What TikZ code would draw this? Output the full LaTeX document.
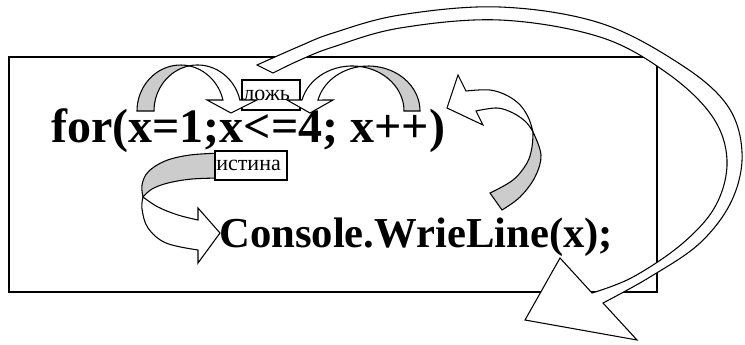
\documentclass[tikz,border=0pt]{standalone}
\usepackage{fontspec}
\setmainfont{Liberation Serif}

\begin{document}
\begin{tikzpicture}[x=0.75pt,y=-0.75pt,
  back/.style={draw,line width=0.8pt,fill=gray!40},
  front/.style={draw,line width=0.8pt,fill=white},
  lbl/.style={draw,line width=0.9pt,fill=white,font=\fontsize{16.5}{18}\selectfont,
    align=left,inner xsep=1pt,inner ysep=0pt}]
\useasboundingbox (0,0) rectangle (745,344);

\draw[line width=1.2pt] (9,57) rectangle (657,292);

\node[anchor=base west,inner sep=0pt,font=\fontsize{36}{42}\selectfont\bfseries] (fortext) at (51,142) {for(x=1;x<=4; x++)};
\node[anchor=base west,inner sep=0pt,font=\fontsize{32}{38}\selectfont\bfseries] (cons) at (219,247) {Console.WrieLine(x);};

\draw[back] plot[smooth,tension=0.6] coordinates {(222,153) (190,155) (165,161) (148,172) (142,185) (143,197)}
  -- plot[smooth,tension=0.6] coordinates {(143,197) (152,189) (168,183) (192,179) (222,178)} -- cycle;
\draw[front] plot[smooth,tension=0.6] coordinates {(143,197) (142,209) (148,228) (166,243) (198,250)}
  -- (198,263) -- (220,233) -- (198,208) -- (198,220)
  -- plot[smooth,tension=0.6] coordinates {(198,220) (178,215) (158,207) (143,197)} -- cycle;

\node[lbl,text width=41.5pt,minimum height=22.5pt] (lozh) at (271,95) {ложь};
\node[lbl,text width=52pt,minimum height=21.75pt] (ist) at (251,165.5) {истина};

\draw[back] (137,111) arc[start angle=180,end angle=281.24,x radius=43.6,y radius=46]
  arc[start angle=258.76,end angle=180,x radius=43.6,y radius=46] -- cycle;
\draw[front] (189.1,65.88) arc[start angle=281.24,end angle=346.2,x radius=43.6,y radius=46]
  -- (207,100) -- (231,113) -- (257,100) -- (239.9,100)
  arc[start angle=346.2,end angle=258.76,x radius=43.6,y radius=46] -- cycle;

\draw[back] (420,111) arc[start angle=360,end angle=261.12,x radius=51.8,y radius=45]
  arc[start angle=278.88,end angle=360,x radius=51.8,y radius=45] -- cycle;
\draw[front] (360.2,66.54) arc[start angle=261.12,end angle=194.1,x radius=51.8,y radius=45]
  -- (333,100) -- (310,113) -- (287,100) -- (302,100)
  arc[start angle=194.1,end angle=278.88,x radius=51.8,y radius=45] -- cycle;

\draw[back] plot[smooth,tension=0.6] coordinates {(502,210) (520,197) (535,177) (541,155) (533,132)}
  -- plot[smooth,tension=0.6] coordinates {(533,132) (532,147) (527,163) (513,180) (490,193)} -- cycle;
\draw[front] plot[smooth,tension=0.6] coordinates {(533,132) (529,119) (521,106) (508,96) (490,90) (466,91)}
  -- (458,75) -- (447,108) -- (483,125) -- (476,111)
  -- plot[smooth,tension=0.6] coordinates {(476,111) (497,108) (513,113) (526,122) (533,132)} -- cycle;

\draw[front] plot[smooth,tension=0.6] coordinates {(257,65) (300,46) (333,33) (400,15) (500,7) (600,23) (680,64) (727,105) (742,152) (732,200) (700,243) (650,277) (603,303)}
  -- (637,340) -- (525,320) -- (560,258) -- (592,293)
  -- plot[smooth,tension=0.6] coordinates {(592,293) (633,277) (683,243) (716,205) (727,160) (712,116) (667,73) (600,37) (500,20) (400,28) (333,47) (300,60) (273,73)} -- cycle;
\end{tikzpicture}
\end{document}
